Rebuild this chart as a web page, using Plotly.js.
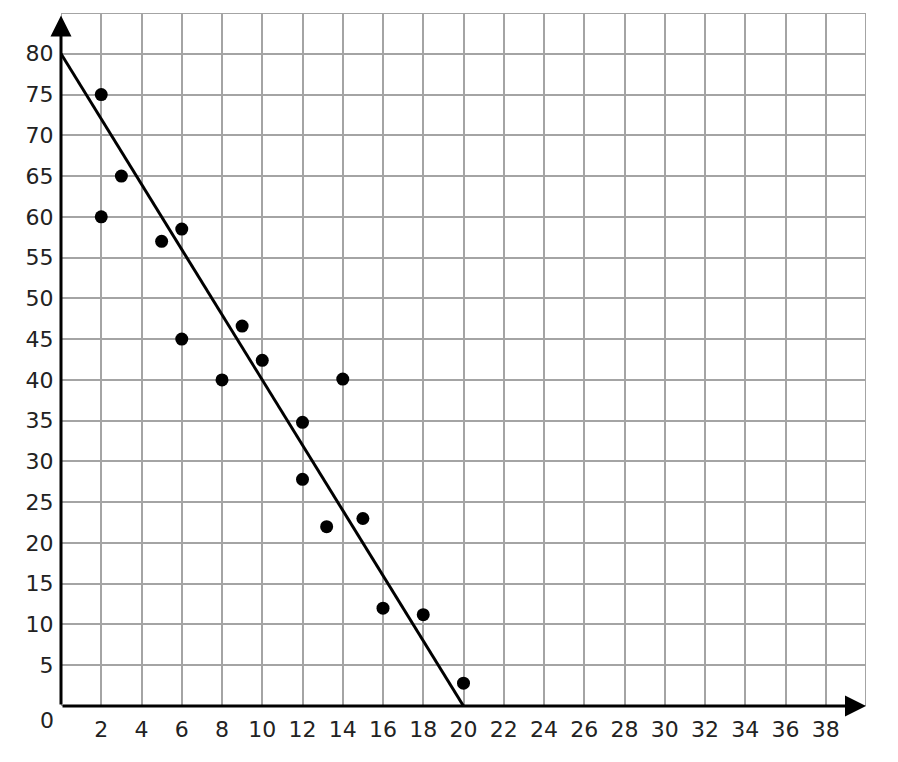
<!DOCTYPE html>
<html>
<head>
<meta charset="utf-8">
<script src="https://cdn.plot.ly/plotly-3.0.1.min.js"></script>
<style>
  html, body { margin: 0; padding: 0; background: #fff; }
  #chart { width: 898px; height: 762px; }
</style>
</head>
<body>
<div id="chart"></div>
<script>
  // scatter points
  var pointX = [2, 3, 2, 5, 6, 6, 8, 9, 10, 12, 12, 13.2, 14, 15, 16, 18, 20];
  var pointY = [75, 65, 60, 57, 58.5, 45, 40, 46.6, 42.4, 34.8, 27.8, 22, 40.1, 23, 12, 11.2, 2.8];

  // line of fit endpoints
  var fitX = [0, 20];
  var fitY = [80, 0];

  var xTicks = [2, 4, 6, 8, 10, 12, 14, 16, 18, 20, 22, 24, 26, 28, 30, 32, 34, 36, 38];
  var yTicks = [5, 10, 15, 20, 25, 30, 35, 40, 45, 50, 55, 60, 65, 70, 75, 80];
  var xMax = 40;
  var yMax = 85;

  var GRID = '#a4a4a4';
  var FONT = { family: 'DejaVu Sans, Verdana, sans-serif', size: 22, color: '#222' };

  var fitTrace = {
    type: 'scatter',
    mode: 'lines',
    x: fitX,
    y: fitY,
    line: { color: '#000', width: 3 },
    hoverinfo: 'skip'
  };

  var pointTrace = {
    type: 'scatter',
    mode: 'markers',
    x: pointX,
    y: pointY,
    marker: { color: '#000', size: 13 },
    cliponaxis: false
  };

  var layout = {
    width: 898,
    height: 762,
    margin: { l: 61, r: 32, t: 13, b: 56 },
    paper_bgcolor: '#fff',
    plot_bgcolor: '#fff',
    showlegend: false,
    font: FONT,
    xaxis: {
      range: [0, xMax],
      tickvals: xTicks,
      ticktext: xTicks.map(String),
      showgrid: true,
      gridcolor: GRID,
      gridwidth: 2,
      zeroline: false,
      showline: false,
      ticks: 'outside',
      ticklen: 4,
      tickcolor: 'rgba(0,0,0,0)',
      tickfont: FONT,
      fixedrange: true
    },
    yaxis: {
      range: [0, yMax],
      tickvals: yTicks,
      ticktext: yTicks.map(String),
      showgrid: true,
      gridcolor: GRID,
      gridwidth: 2,
      zeroline: false,
      showline: false,
      ticks: 'outside',
      ticklen: 2,
      tickcolor: 'rgba(0,0,0,0)',
      tickfont: FONT,
      fixedrange: true
    },
    shapes: [
      // outer grid border (top and right edges)
      { type: 'rect', xref: 'x', yref: 'y', x0: 0, y0: 0, x1: xMax, y1: yMax,
        line: { color: GRID, width: 2 }, layer: 'below' }
    ],
    annotations: [
      // x axis with arrow
      { x: xMax, y: 0, ax: 0, ay: 0, xref: 'x', yref: 'y', axref: 'x', ayref: 'y',
        text: '', showarrow: true, arrowhead: 2, arrowsize: 1.4, arrowwidth: 3, arrowcolor: '#000' },
      // y axis with arrow
      { x: 0, y: yMax - 0.3, ax: 0, ay: 0, xref: 'x', yref: 'y', axref: 'x', ayref: 'y',
        text: '', showarrow: true, arrowhead: 2, arrowsize: 1.4, arrowwidth: 3, arrowcolor: '#000' },
      // origin label
      { x: 0, y: 0, xref: 'x', yref: 'y', text: '0', showarrow: false,
        xanchor: 'right', yanchor: 'top', xshift: -5, yshift: 0, font: FONT }
    ]
  };

  Plotly.newPlot('chart', [fitTrace, pointTrace], layout, { displayModeBar: false, staticPlot: true });
</script>
</body>
</html>
